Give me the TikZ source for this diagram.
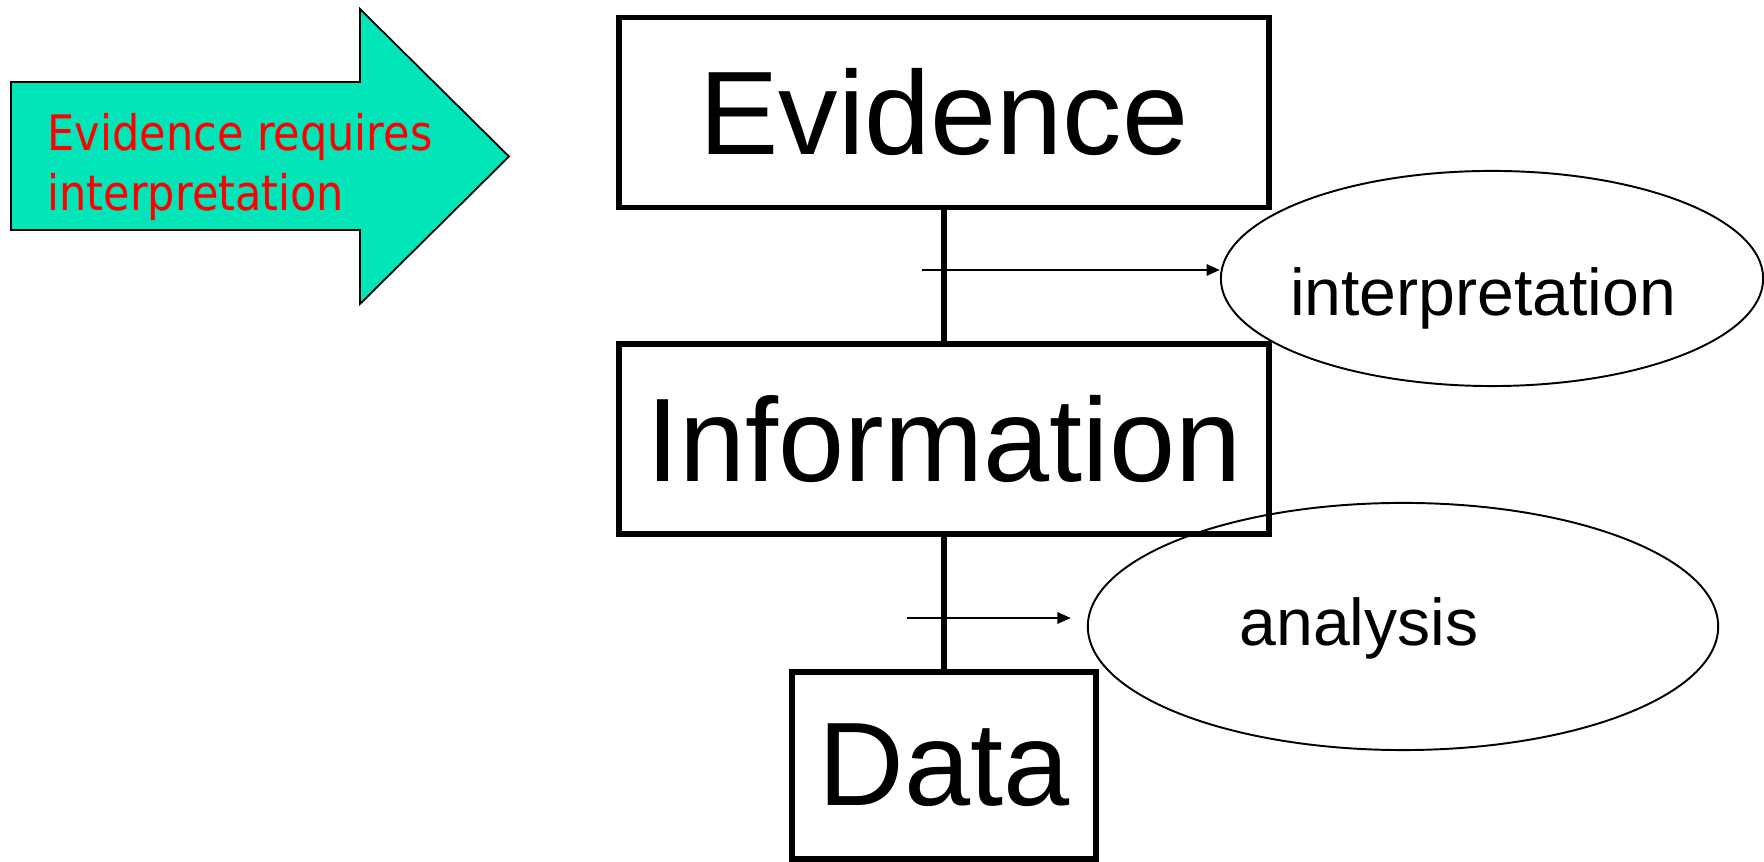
\documentclass[tikz,border=0pt]{standalone}
\usepackage{fontspec}
\setmainfont{Liberation Sans}
\newfontfamily\notefont{DejaVu Sans}[FakeStretch=0.88]
\usetikzlibrary{positioning, arrows.meta, shapes.geometric}
\definecolor{arrowfill}{RGB}{0,230,184}
\definecolor{notered}{RGB}{255,0,0}

\begin{document}
\begin{tikzpicture}[x=0.01cm, y=-0.01cm,
    level/.style={draw, line width=1.6pt, minimum height=1.9cm, inner sep=0pt, font=\fontsize{33.8}{40}\selectfont},
    process/.style={ellipse, draw, line width=0.55pt, inner sep=0pt},
    procfont/.style={font=\fontsize{18.8}{22}\selectfont, inner sep=0pt},
    link/.style={line width=1.5pt},
    feed/.style={-{Triangle[length=3.8pt, width=3.2pt]}, line width=0.65pt},
]
    \useasboundingbox (0,0) rectangle (1764,862);
    % big arrow with the note
    \draw[fill=arrowfill, line width=0.5pt] (11,82) -- (360,82) -- (360,9) -- (509,156.5) -- (360,304) -- (360,230) -- (11,230) -- cycle;
    \node[anchor=west, align=left, inner sep=0pt, text=notered, font=\notefont\fontsize{13.9}{17.1}\selectfont] (note) at (47,167) {Evidence requires\\interpretation};
    % levels
    \node[level, minimum width=6.5cm] (evid) at (944,112.5) {Evidence};
    \node[level, minimum width=6.5cm] (info) at (944,439) {Information};
    \node[level, minimum width=3.04cm, minimum height=1.87cm] (data) at (944,765.5) {Data};
    \draw[link] (evid) -- (info);
    \draw[link] (info) -- (data);
    % processes
    \node[process, minimum width=5.42cm, minimum height=2.15cm,
        label={[procfont, shift={(-9,20)}]center:interpretation}] (interp) at (1492,278.5) {};
    \node[process, minimum width=6.3cm, minimum height=2.47cm,
        label={[procfont, shift={(-44,2)}]center:analysis}] (ana) at (1403,626.5) {};
    \coordinate (s1) at (922,270);
    \coordinate (s2) at (907,618);
    \draw[feed] (s1) -- (s1 -| interp.west);
    \draw[feed, shorten >=0.16cm] (s2) -- (s2 -| ana.west);
\end{tikzpicture}
\end{document}
